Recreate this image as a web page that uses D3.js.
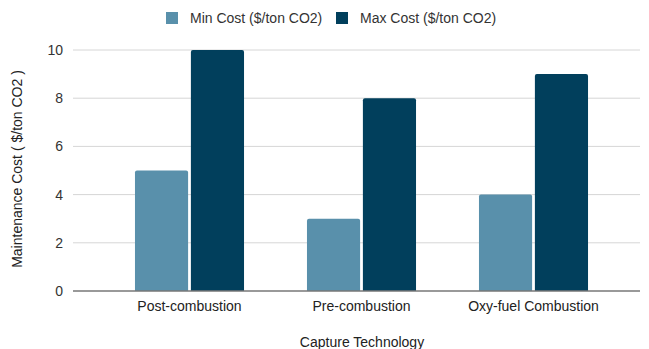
<!DOCTYPE html>
<html>
<head>
<meta charset="utf-8">
<script src="https://cdn.jsdelivr.net/npm/d3@7"></script>
<style>
  html, body { margin: 0; padding: 0; background: #fff; }
  svg { display: block; font-family: "Liberation Sans", Arial, sans-serif; }
</style>
</head>
<body>
<svg id="chart" width="649" height="349"></svg>
<script>
// Maintenance cost ranges per capture technology
const categories = ["Post-combustion", "Pre-combustion", "Oxy-fuel Combustion"];
const seriesNames = ["Min Cost ($/ton CO2)", "Max Cost ($/ton CO2)"];
const minCost = [5, 3, 4];
const maxCost = [10, 8, 9];
const yTicks = [0, 2, 4, 6, 8, 10];
const colors = ["#5990ab", "#013f5c"];

const rows = categories.map((c, i) => ({ category: c, values: [minCost[i], maxCost[i]] }));

const svg = d3.select("#chart");
const plot = { left: 73, right: 640, top: 50, bottom: 291 };
const fontSize = 14;

const x0 = d3.scaleBand()
  .domain(categories)
  .range([103.5, 619.5])
  .paddingInner(0.366)
  .paddingOuter(0.183);

const x1 = d3.scaleBand()
  .domain(d3.range(seriesNames.length))
  .range([0, x0.bandwidth()])
  .paddingInner(0.05);

const y = d3.scaleLinear().domain([0, 10]).range([plot.bottom, plot.top]);

// Horizontal gridlines
svg.append("g")
  .selectAll("line")
  .data(yTicks.filter(t => t !== 0))
  .join("line")
  .attr("x1", plot.left).attr("x2", plot.right)
  .attr("y1", d => y(d)).attr("y2", d => y(d))
  .attr("stroke", "#d6d6d6").attr("stroke-width", 1);

// Y tick labels
svg.append("g")
  .selectAll("text")
  .data(yTicks)
  .join("text")
  .attr("x", 63).attr("y", d => y(d))
  .attr("dy", "0.35em")
  .attr("text-anchor", "end")
  .attr("font-size", fontSize)
  .attr("fill", "#333")
  .text(d => d);

// Bars with slightly rounded top corners
function barPath(x, yTop, w, yBase, r) {
  r = Math.min(r, w / 2, yBase - yTop);
  return `M${x},${yBase}V${yTop + r}Q${x},${yTop} ${x + r},${yTop}H${x + w - r}Q${x + w},${yTop} ${x + w},${yTop + r}V${yBase}Z`;
}

const groups = svg.append("g")
  .selectAll("g")
  .data(rows)
  .join("g")
  .attr("transform", d => `translate(${x0(d.category)},0)`);

groups.selectAll("path")
  .data(d => d.values.map((v, i) => ({ v, i })))
  .join("path")
  .attr("d", d => barPath(x1(d.i), y(d.v), x1.bandwidth(), y(0), 2))
  .attr("fill", d => colors[d.i]);

// Baseline
svg.append("line")
  .attr("x1", plot.left).attr("x2", plot.right)
  .attr("y1", y(0)).attr("y2", y(0))
  .attr("stroke", "#777").attr("stroke-width", 1.5);

// Category labels
svg.append("g")
  .selectAll("text")
  .data(categories)
  .join("text")
  .attr("x", d => x0(d) + x0.bandwidth() / 2)
  .attr("y", 306)
  .attr("dy", "0.35em")
  .attr("text-anchor", "middle")
  .attr("font-size", fontSize)
  .attr("fill", "#222")
  .text(d => d);

// Axis titles
svg.append("text")
  .attr("x", 362).attr("y", 342)
  .attr("dy", "0.35em")
  .attr("text-anchor", "middle")
  .attr("font-size", fontSize)
  .attr("fill", "#222")
  .text("Capture Technology");

svg.append("text")
  .attr("transform", "translate(17,169) rotate(-90)")
  .attr("dy", "0.35em")
  .attr("text-anchor", "middle")
  .attr("font-size", fontSize)
  .attr("fill", "#222")
  .text("Maintenance Cost ( $/ton CO2 )");

// Legend
const legendX = [166, 336];
const legend = svg.append("g")
  .selectAll("g")
  .data(seriesNames)
  .join("g")
  .attr("transform", (d, i) => `translate(${legendX[i]},12)`);

legend.append("rect")
  .attr("width", 12).attr("height", 12)
  .attr("fill", (d, i) => colors[i]);

legend.append("text")
  .attr("x", 24).attr("y", 6)
  .attr("dy", "0.35em")
  .attr("font-size", fontSize)
  .attr("fill", "#333")
  .text(d => d);
</script>
</body>
</html>
